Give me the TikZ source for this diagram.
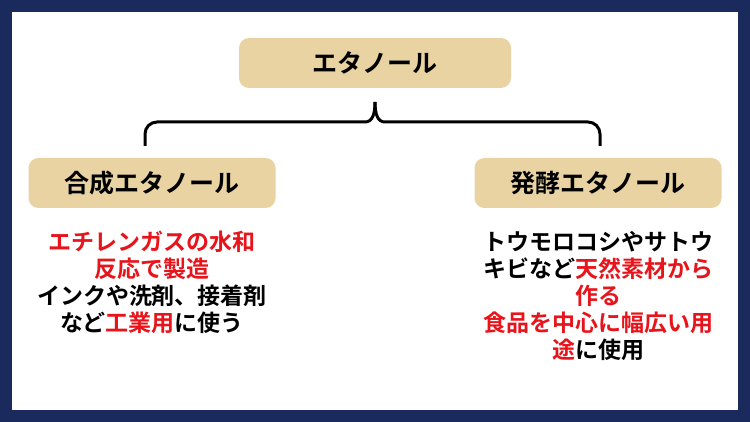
\documentclass[tikz,border=0pt]{standalone}
\usepackage{fontspec}
\newfontfamily\jp{Noto Sans CJK JP Bold}
\definecolor{navy}{HTML}{1B2A5C}
\definecolor{paper}{HTML}{E9D3A2}
\definecolor{red}{HTML}{E8141B}
\begin{document}
\begin{tikzpicture}[x=1pt,y=-1pt,
  box/.style={fill=paper,rounded corners=10pt,minimum height=50pt,font=\jp\fontsize{25}{28}\selectfont},
  body/.style={align=center,font=\jp\fontsize{23}{27}\selectfont}]
\fill[navy] (0,0) rectangle (750,422);
\fill[white] (12,12) rectangle (738,410);
\node[box,minimum width=272pt] (top) at (375,63) {エタノール};
\node[box,minimum width=247pt] (l) at (152,183) {合成エタノール};
\node[box,minimum width=247pt] (r) at (598,183) {発酵エタノール};
\coordinate (tip) at (375,102);
\draw[line width=3pt,rounded corners=12pt] (145,146) -- (145,122) -- (365,122);
\draw[line width=3pt,rounded corners=12pt] (600,146) -- (600,122) -- (385,122);
\draw[line width=3pt] (365,122) .. controls (372,122) and (375,115) .. (tip);
\draw[line width=3pt] (385,122) .. controls (378,122) and (375,115) .. (tip);
\node[body] (lt) at (152,282) {\textcolor{red}{エチレンガスの水和}\\\textcolor{red}{反応で製造}\\インクや洗剤、接着剤\\など\textcolor{red}{工業用}に使う};
\node[body] (rt) at (598,296) {トウモロコシやサトウ\\キビなど\textcolor{red}{天然素材から}\\\textcolor{red}{作る}\\\textcolor{red}{食品を中心に幅広い用}\\\textcolor{red}{途}に使用};
\end{tikzpicture}
\end{document}
